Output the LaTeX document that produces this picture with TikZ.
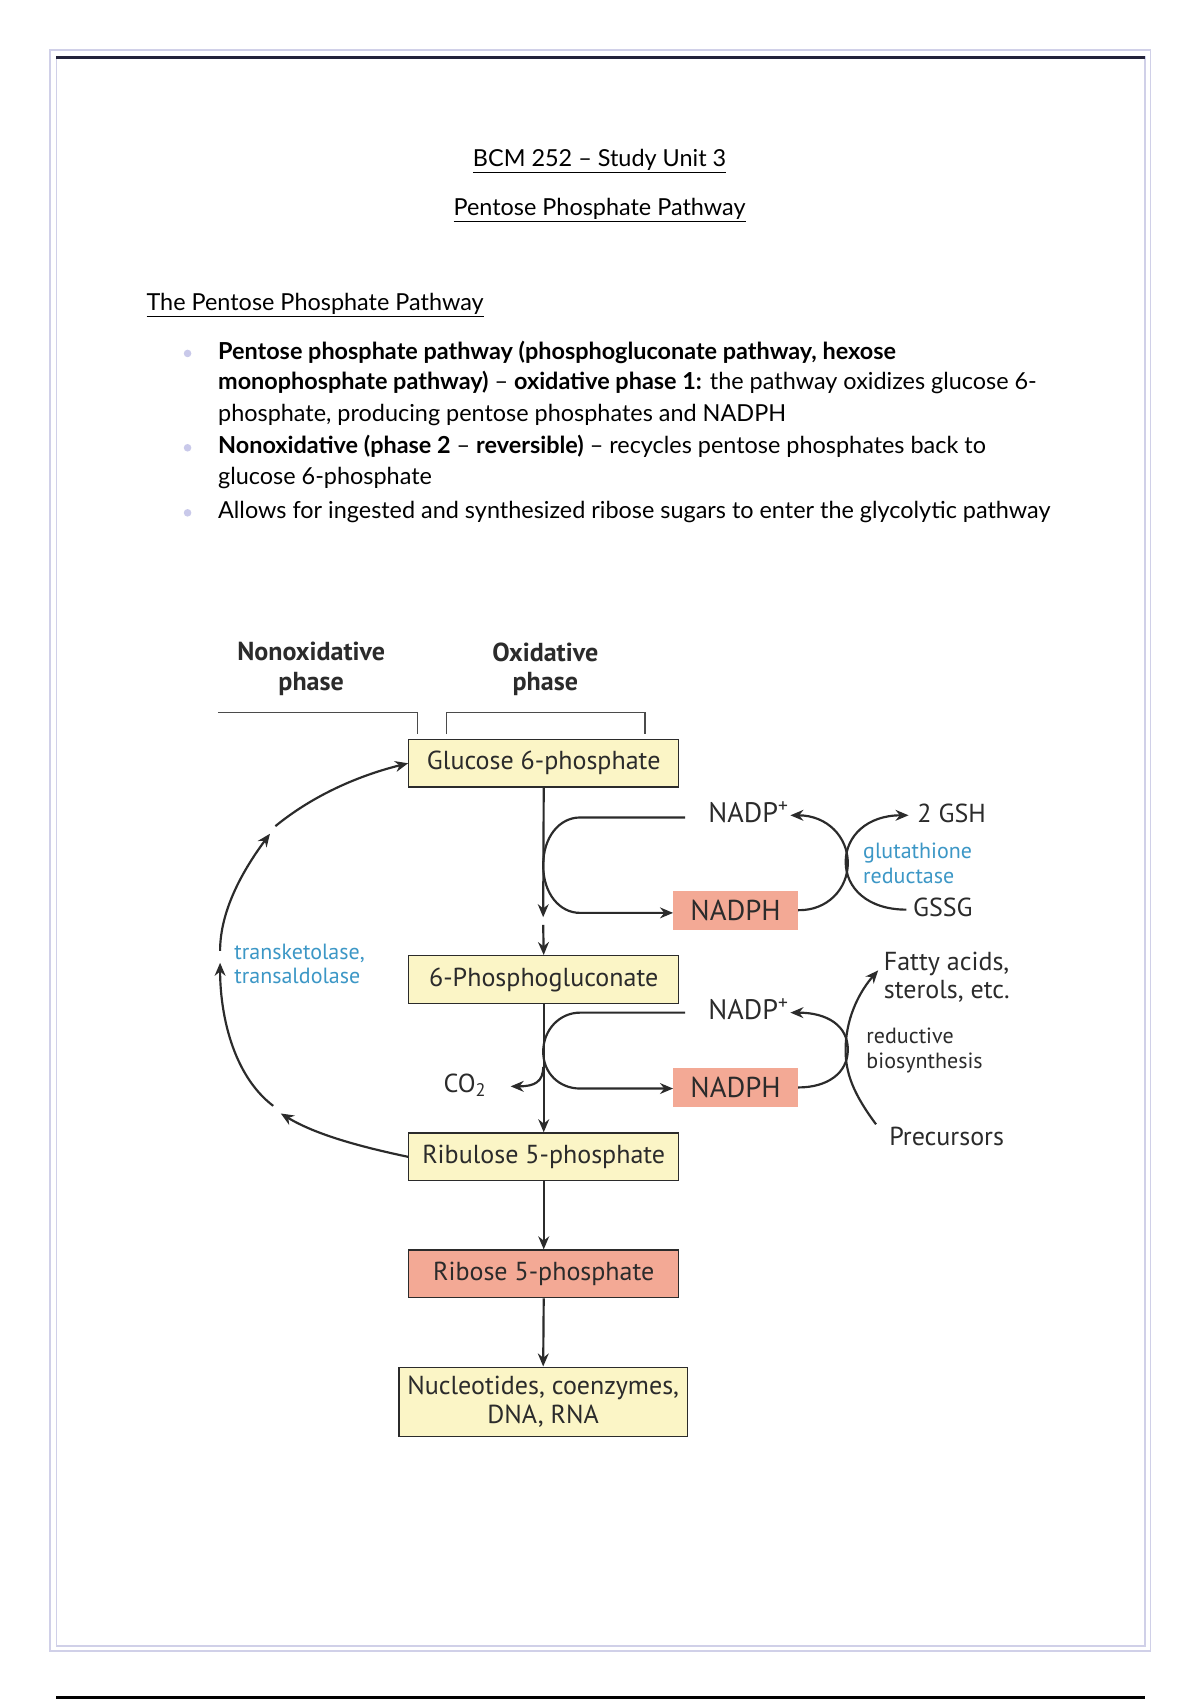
\documentclass[tikz,border=0pt]{standalone}
\usepackage{fontspec}
\setmainfont{Lato}
\newfontfamily\diag{PT Sans}
\usetikzlibrary{arrows.meta}
\definecolor{boxyel}{HTML}{FBF5C6}
\definecolor{salmon}{HTML}{F3A995}
\definecolor{enzblue}{HTML}{3C97C6}
\definecolor{framec}{HTML}{D0D0E8}
\definecolor{topbar}{HTML}{23233A}
\definecolor{bulletc}{HTML}{C9C9EA}
\definecolor{ink}{HTML}{2B2B2B}
\newcommand{\plussup}{\raisebox{0.7ex}{\fontsize{18}{18}\selectfont +}}
\begin{document}
\begin{tikzpicture}[x=1pt,y=-1pt,
  body/.style={font=\fontsize{21.6}{26}\selectfont, anchor=mid west, inner sep=0pt, text=black},
  ttl/.style={font=\fontsize{21.6}{26}\selectfont, anchor=mid, inner sep=0pt, text=black},
  ybox/.style={draw=ink, line width=1.2pt, fill=boxyel, minimum width=249pt, minimum height=44pt, inner sep=0pt, font=\diag\fontsize{24}{26}\selectfont, text=ink},
  sbox/.style={fill=salmon, minimum width=115pt, minimum height=36pt, inner sep=0pt, font=\diag\fontsize{26.5}{28}\selectfont, text=ink},
  lbl/.style={font=\diag\fontsize{24}{26}\selectfont, text=ink, inner sep=0pt},
  nlbl/.style={font=\diag\fontsize{26}{28}\selectfont, text=ink, inner sep=0pt, anchor=mid east},
  slbl/.style={font=\diag\fontsize{20.3}{24}\selectfont, text=ink, inner sep=0pt, anchor=mid west},
  enz/.style={font=\diag\fontsize{20.3}{24}\selectfont, text=enzblue, inner sep=0pt, anchor=mid west},
  hd/.style={font=\diag\bfseries\fontsize{24}{27}\selectfont, text=ink, align=center, inner sep=0pt},
  ln/.style={line width=2pt, draw=ink},
  arr/.style={ln, -{Stealth[length=12pt,width=10pt]}},
  brk/.style={line width=1.4pt, draw=ink!85}
]
\useasboundingbox (0,0) rectangle (1107,1568);
\fill[white] (0,0) rectangle (1107,1568);
% page frame
\draw[framec, line width=1.5pt] (46,46) rectangle (1061,1523);
\draw[framec, line width=1.5pt] (52,52) rectangle (1056,1518);
\draw[topbar, line width=3pt] (52,53) -- (1056,53);
\draw[black, line width=2.5pt] (52,1566) -- (1056,1566);

% titles
\node[ttl] (t1) at (553,151) {\underline{BCM 252 – Study Unit 3}};
\node[ttl] (t2) at (553,196) {\underline{Pentose Phosphate Pathway}};
\node[ttl, anchor=mid west] (t3) at (135,284) {\underline{The Pentose Phosphate Pathway}};

% bullets
\fill[bulletc] (173,326) circle (3.5pt);
\fill[bulletc] (173,413) circle (3.5pt);
\fill[bulletc] (173,473) circle (3.5pt);
\node[body] (b1) at (201,329) {\textbf{Pentose phosphate pathway (phosphogluconate pathway, hexose}};
\node[body] (b2) at (201,357) {\textbf{monophosphate pathway)} – \textbf{oxidative phase 1:} the pathway oxidizes glucose 6-};
\node[body] (b3) at (201,386) {phosphate, producing pentose phosphates and NADPH};
\node[body] (b4) at (201,416) {\textbf{Nonoxidative (phase 2} – \textbf{reversible)} – recycles pentose phosphates back to};
\node[body] (b5) at (201,444) {glucose 6-phosphate};
\node[body] (b6) at (201,476) {Allows for ingested and synthesized ribose sugars to enter the glycolytic pathway};

% phase headers
\node[hd] (hnon) at (287,617) {Nonoxidative\\phase};
\node[hd] (hox) at (503,617) {Oxidative\\phase};
\draw[brk] (201,657) -- (385,657) -- (385,677);
\draw[brk] (412,677) -- (412,657) -- (595,657) -- (595,677);

% boxes
\node[ybox] (g6p) at (501.5,704) {Glucose 6-phosphate};
\node[ybox] (pg6) at (501.5,903.5) {6-Phosphogluconate};
\node[ybox] (rul) at (501.5,1067) {Ribulose 5-phosphate};
\node[ybox, fill=salmon] (rib) at (501.5,1175) {Ribose 5-phosphate};
\node[ybox, minimum width=266pt, minimum height=64pt, align=center, font=\diag\fontsize{24}{26.5}\selectfont] (nuc) at (501,1293) {Nucleotides, coenzymes,\\DNA, RNA};

% main chain
\coordinate (brkA) at (501,846);
\coordinate (brkB) at (501,853);
\draw[arr] (g6p.south) -- (brkA);
\draw[arr] (brkB) -- (pg6.north);
\draw[arr] (pg6.south) -- (rul.north);
\draw[arr] (rul.south) -- (rib.north);
\draw[arr] (rib.south) -- (nuc.north);

% first NADP/NADPH loop
\node[sbox] (nadph1) at (678.5,839.5) {NADPH};
\node[nlbl] (nadp1) at (727,756) {NADP\plussup};
\coordinate (l1s) at (632,754);
\draw[arr] (l1s) -- (535,754) .. controls (516,754) and (501,772) .. (501,798)
   .. controls (501,824) and (516,842) .. (535,842) -- (nadph1.west |- 535,842);
\node[lbl, anchor=mid west] (gsh) at (846,756) {2 GSH};
\node[lbl, anchor=mid west] (gssg) at (842,843) {GSSG};
\node[enz] (gr1) at (796,789) {glutathione};
\node[enz] (gr2) at (796,812) {reductase};
\coordinate (nadp1t) at (729,752);
\coordinate (gsht) at (838,752);
\coordinate (gssgs) at (836,839);
\draw[arr] (nadph1.east) .. controls (763,840) and (782,820) .. (782,796)
   .. controls (782,772) and (763,752) .. (nadp1t);
\draw[arr] (gssgs) .. controls (800,839) and (780,819) .. (780,795)
   .. controls (780,771) and (800,752) .. (gsht);

% second NADP/NADPH loop
\node[sbox] (nadph2) at (678.5,1003) {NADPH};
\node[nlbl] (nadp2) at (727,938) {NADP\plussup};
\coordinate (l2s) at (632,934);
\draw[arr] (l2s) -- (535,934) .. controls (516,934) and (501,950) .. (501,970)
   .. controls (501,990) and (516,1004) .. (535,1004) -- (nadph2.west |- 535,1004);
\node[lbl, anchor=mid west] (co2) at (409,1005) {CO\textsubscript{2}};
\coordinate (co2s) at (501,984);
\coordinate (co2t) at (471,1002);
\draw[arr] (co2s) .. controls (501,998) and (493,1002) .. (co2t);
\coordinate (nadp2t) at (729,934);
\draw[arr] (nadph2.east) .. controls (763,1003) and (782,990) .. (782,968)
   .. controls (782,946) and (763,934) .. (nadp2t);
\node[lbl, anchor=west, align=left, font=\diag\fontsize{24}{26}\selectfont] (fatty) at (815,901) {Fatty acids,\\sterols, etc.};
\node[slbl] (rb1) at (799,960) {reductive};
\node[slbl] (rb2) at (799,983) {biosynthesis};
\node[lbl, anchor=mid west] (prec) at (820,1054) {Precursors};
\coordinate (precs) at (808,1037);
\coordinate (fattye) at (810,895);
\draw[arr] (precs) .. controls (788,1010) and (779,990) .. (780,965)
   .. controls (781,935) and (795,912) .. (fattye);

% nonoxidative cycle
\node[enz] (tk1) at (216,882) {transketolase,};
\node[enz] (tk2) at (216,905) {transaldolase};
\coordinate (k1) at (259,1027);
\coordinate (k2) at (252,1020);
\coordinate (k3) at (203,888);
\coordinate (k4) at (203,877);
\coordinate (k5) at (249,769);
\coordinate (k6) at (254,762);
\draw[arr] (rul.west) .. controls (334,1058) and (292,1047) .. (k1);
\draw[arr] (k2) .. controls (214,991) and (203,934) .. (k3);
\draw[arr] (k4) .. controls (203,838) and (226,800) .. (k5);
\draw[arr] (k6) .. controls (287,735) and (328,716) .. (g6p.west);
\end{tikzpicture}
\end{document}
